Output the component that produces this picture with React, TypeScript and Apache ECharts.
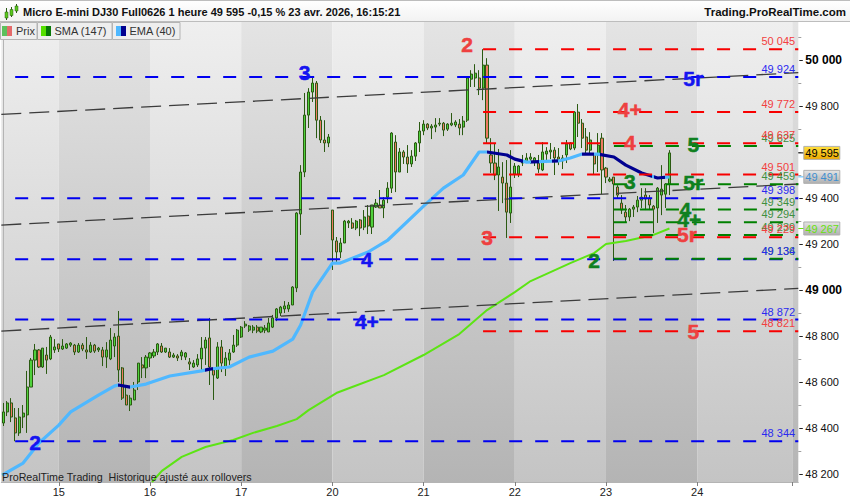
import React, { useEffect, useRef } from "react";
import * as echarts from "echarts";

const FONT = '"Liberation Sans", Arial, sans-serif';

const dayLabels = ["15", "16", "17", "20", "21", "22", "23", "24"];
const dayStarts = [14, 37, 60, 83, 106, 129, 152, 175];
const extraTick = 199;
const barSlots = 201;
const yMin = 48167;
const yMax = 50163;

const opens = [48423,48471,48510,48445,48380,48449,48458,48579,48696,48740,48666,48718,48701,48740,48766,48744,48748,48761,48761,48731,48761,48740,48731,48761,48740,48740,48709,48701,48757,48800,48662,48544,48501,48523,48601,48675,48662,48705,48714,48731,48757,48731,48731,48709,48714,48714,48709,48688,48666,48675,48701,48748,48792,48653,48618,48753,48666,48696,48731,48761,48796,48844,48826,48826,48839,48818,48826,48818,48839,48879,48900,48918,48918,48935,49009,49330,49512,49759,49859,49898,49737,49651,49638,49347,49213,49165,49204,49291,49291,49269,49304,49273,49321,49273,49360,49369,49356,49403,49442,49642,49512,49599,49577,49547,49581,49638,49690,49720,49703,49707,49720,49724,49698,49716,49716,49720,49707,49737,49915,49920,49920,49876,49976,49586,49551,49499,49490,49464,49334,49503,49503,49551,49560,49568,49555,49551,49521,49590,49599,49607,49577,49560,49586,49638,49616,49772,49724,49664,49607,49586,49586,49659,49529,49473,49490,49447,49377,49338,49317,49351,49360,49390,49412,49399,49364,49356,49412,49416,49460];
const closes = [48471,48510,48449,48380,48449,48466,48579,48696,48740,48666,48748,48696,48796,48753,48744,48757,48766,48770,48731,48761,48744,48731,48761,48735,48748,48709,48740,48783,48796,48653,48531,48501,48531,48566,48683,48662,48709,48727,48731,48766,48731,48748,48709,48718,48705,48731,48727,48679,48683,48701,48748,48783,48666,48631,48753,48683,48705,48727,48761,48826,48839,48852,48844,48839,48822,48839,48835,48857,48879,48918,48926,48931,48935,49013,49334,49512,49759,49859,49898,49737,49651,49638,49664,49217,49165,49204,49299,49299,49269,49299,49269,49317,49278,49369,49377,49356,49390,49442,49681,49512,49599,49577,49547,49581,49638,49690,49720,49703,49711,49716,49724,49694,49720,49724,49729,49703,49733,49920,49937,49941,49876,49976,49659,49551,49499,49534,49464,49338,49447,49538,49538,49555,49573,49577,49573,49525,49599,49603,49607,49573,49568,49573,49633,49612,49772,49724,49659,49607,49651,49547,49629,49521,49490,49481,49460,49412,49347,49317,49351,49360,49390,49403,49395,49369,49351,49442,49438,49460,49595];
const lows = [48410,48453,48427,48344,48367,48401,48380,48579,48631,48662,48662,48636,48696,48727,48731,48740,48744,48753,48718,48727,48735,48701,48727,48727,48731,48670,48662,48696,48709,48601,48523,48501,48475,48523,48566,48618,48618,48666,48705,48718,48727,48727,48705,48705,48692,48696,48696,48653,48662,48666,48644,48675,48588,48523,48614,48644,48627,48675,48727,48753,48792,48835,48818,48813,48813,48813,48813,48818,48835,48865,48887,48900,48905,48935,48991,49239,49490,49703,49816,49659,49638,49599,49620,49087,49117,49139,49204,49269,49265,49260,49234,49260,49243,49243,49356,49356,49312,49377,49421,49425,49512,49547,49508,49534,49560,49599,49672,49694,49655,49685,49711,49668,49690,49711,49707,49672,49672,49729,49881,49881,49846,49824,49638,49508,49477,49343,49377,49226,49291,49486,49490,49538,49551,49547,49538,49508,49516,49551,49568,49499,49542,49525,49551,49607,49607,49664,49616,49586,49586,49499,49512,49416,49464,49468,49126,49395,49330,49291,49299,49317,49338,49356,49347,49347,49247,49291,49325,49356,49412];
const highs = [48510,48518,48531,48488,48488,48501,48649,48705,48766,48744,48748,48753,48805,48787,48766,48787,48770,48774,48766,48770,48770,48796,48774,48766,48753,48753,48774,48835,48813,48909,48666,48588,48544,48601,48683,48709,48718,48731,48744,48770,48770,48748,48748,48727,48722,48740,48731,48705,48696,48722,48796,48796,48879,48653,48774,48783,48731,48744,48805,48831,48844,48865,48848,48848,48848,48839,48848,48879,48892,48922,48931,48952,48948,49017,49338,49542,49855,49876,49920,49907,49755,49737,49677,49347,49230,49226,49304,49304,49312,49304,49308,49347,49369,49369,49395,49434,49403,49468,49685,49672,49616,49607,49629,49607,49642,49729,49737,49724,49720,49746,49746,49729,49724,49768,49737,49742,49755,49920,49954,49980,49954,50045,50006,49659,49638,49612,49555,49564,49607,49551,49542,49586,49594,49594,49577,49586,49642,49620,49638,49620,49616,49586,49651,49642,49776,49807,49742,49703,49685,49586,49681,49681,49534,49490,49490,49455,49412,49369,49356,49369,49408,49442,49442,49412,49369,49447,49542,49464,49607];

const emaIdx = [-0.3,5,9,14,17,24,28,29,32,36,42,50,52,57,62,68,73,75,78,83,85,92,97,106,111,116,120,122,127,129,132,140,143,146,150,154,157,161,165,168];
const emaVal = [48197,48249,48336,48414,48471,48544,48583,48588,48579,48592,48627,48649,48657,48666,48709,48735,48787,48848,48991,49117,49117,49165,49217,49364,49442,49499,49599,49599,49586,49568,49555,49560,49573,49590,49590,49577,49542,49508,49486,49491];
const emaFallStarts = [29,51,122,133,138.5,146,150.5,164];
const emaFallEnds = [32,53,131,135,140,149,163.5,167];

const smaIdx = [37.5,40,45,51,58,63,69,74,77,84,88,96,106,115,122,129,133,138,143,149,152,157,164,168];
const smaVal = [48167,48215,48276,48319,48349,48380,48410,48440,48479,48553,48579,48631,48718,48809,48913,48991,49039,49078,49117,49160,49200,49213,49239,49267];

const blueLevels = [49924, 49398, 49134, 48872, 48344];
const redLevels = [50045, 49772, 49637, 49501, 49229, 48821];
const greenLevels = [49625, 49459, 49349, 49294, 49239, 49136];
const blueStart = 3;
const redStart = 121;
const greenStart = 154;

const trendStarts = [49762, 49282, 48822];
const trendEnds = [49943, 49460, 49007];

const blueMarks: [string, number, number][] = [["3",76,49946],["2",8,48340],["4",91.7,49134],["4+",91.7,48865],["5r",174,49920]];
const redMarks: [string, number, number][] = [["2",117,50067],["3",122,49230],["4",158,49638],["4+",158,49785],["5r",172.4,49243],["5",174,48822]];
const greenMarks: [string, number, number][] = [["3",158,49473],["5",174,49633],["5r",174,49468],["4",172,49351],["4+",173,49304],["2",149,49126]];

const tagPrices = [49595, 49491, 49267];
const tagText = ["#000000", "#3f8fd0", "#66e010"];
const tagTop = ["#ffe040", "#e4e4e4", "#e4e4e4"];
const tagBottom = ["#eca800", "#b0b0b0", "#b0b0b0"];
const tagTick = ["#000000", "#4fb8ff", "#66e010"];

const bandEdges = [-0.5,14,37,60,83,106,129,152,175,199,200.5];
const yTicks = [48200,48300,48400,48500,48600,48700,48800,48900,49000,49100,49200,49300,49400,49500,49600,49700,49800,49900,50000,50100];
const yLabels = [48200,48400,48600,48800,49000,49200,49400,49800,50000];

const titleText = "Micro E-mini DJ30 Full0626 1 heure 49 595 -0,15 % 23 avr. 2026, 16:15:21";
const siteText = "Trading.ProRealTime.com";
const footText = "ProRealTime Trading  Historique ajusté aux rollovers";

const BLUE = "#0000f0";
const RED = "#f80000";
const GREEN = "#008000";
const SW = "#2b5a12";

const fmt = (v: number) => {
  const s = String(v);
  return s.slice(0, s.length - 3) + " " + s.slice(-3);
};

const categories = Array.from({ length: barSlots }, (_, i) => {
  const k = dayStarts.indexOf(i);
  return k >= 0 ? dayLabels[k] : "";
});
const isTick = (i: number) => dayStarts.includes(i) || i === extraTick;

function levelSeries(levels: number[], start: number, color: string) {
  return levels.map((lv) => ({
    type: "line",
    xAxisIndex: 1,
    yAxisIndex: 0,
    z: 5,
    silent: true,
    symbol: "none",
    lineStyle: { color, width: 2, type: [13, 13], cap: "butt" },
    data: [[start, lv], [200.5, lv]],
  }));
}

function markSeries(marks: [string, number, number][], color: string) {
  return {
    type: "custom",
    xAxisIndex: 1,
    yAxisIndex: 0,
    z: 7,
    silent: true,
    data: marks.map((m) => [m[1], m[2]]),
    renderItem: (p: any, api: any) => {
      const c = api.coord([api.value(0), api.value(1)]);
      return {
        type: "text",
        x: c[0],
        y: c[1],
        style: {
          text: marks[p.dataIndex][0],
          fill: color,
          stroke: color,
          lineWidth: 0.5,
          font: `bold 21px ${FONT}`,
          align: "center",
          verticalAlign: "middle",
        },
      };
    },
  };
}

function levelTextSeries(levels: number[], color: string) {
  return {
    type: "custom",
    xAxisIndex: 1,
    yAxisIndex: 0,
    z: 6,
    silent: true,
    data: levels.map((l) => [199.7, l]),
    renderItem: (p: any, api: any) => {
      const c = api.coord([api.value(0), api.value(1)]);
      return {
        type: "text",
        x: c[0],
        y: c[1] - 8,
        style: {
          text: fmt(levels[p.dataIndex]),
          fill: color,
          font: `11px ${FONT}`,
          align: "right",
          verticalAlign: "middle",
        },
      };
    },
  };
}

export default function App() {
  const ref = useRef<HTMLDivElement>(null);
  useEffect(() => {
    document.body.style.margin = "0";
    document.body.style.background = "#ffffff";
    const chart = echarts.init(ref.current!, null, { renderer: "svg" });

    const graphicEls: any[] = [
      {
        type: "rect",
        shape: { x: 0, y: 0, width: 850, height: 22 },
        style: {
          fill: new echarts.graphic.LinearGradient(0, 0, 0, 1, [
            { offset: 0, color: "#ffffff" },
            { offset: 1, color: "#f2f2f2" },
          ]),
        },
        z: 0,
      },
      { type: "line", shape: { x1: 0, y1: 0.5, x2: 850, y2: 0.5 }, style: { stroke: "#bdbdbd", lineWidth: 1 }, z: 1 },
      { type: "line", shape: { x1: 0, y1: 21.5, x2: 850, y2: 21.5 }, style: { stroke: "#bdbdbd", lineWidth: 1 }, z: 1 },
      { type: "text", x: 23, y: 12, style: { text: titleText, fill: "#111", font: `bold 11px ${FONT}`, verticalAlign: "middle" }, z: 20 },
      { type: "text", x: 846, y: 12, style: { text: siteText, fill: "#111", font: `bold 11.5px ${FONT}`, align: "right", verticalAlign: "middle" }, z: 20 },
      { type: "line", shape: { x1: 6.5, y1: 8, x2: 6.5, y2: 20 }, style: { stroke: SW, lineWidth: 1 }, z: 20 },
      { type: "rect", shape: { x: 5, y: 12, width: 3, height: 6 }, style: { fill: "#5ac81e", stroke: SW, lineWidth: 0.5 }, z: 21 },
      { type: "line", shape: { x1: 11.5, y1: 7, x2: 11.5, y2: 17 }, style: { stroke: SW, lineWidth: 1 }, z: 20 },
      { type: "rect", shape: { x: 10, y: 9.5, width: 3, height: 6 }, style: { fill: "#5ac81e", stroke: SW, lineWidth: 0.5 }, z: 21 },
      { type: "line", shape: { x1: 16.5, y1: 4, x2: 16.5, y2: 13 }, style: { stroke: SW, lineWidth: 1 }, z: 20 },
      { type: "rect", shape: { x: 15, y: 6, width: 3, height: 5 }, style: { fill: "#5ac81e", stroke: SW, lineWidth: 0.5 }, z: 21 },
      { type: "rect", shape: { x: 0.5, y: 22.5, width: 36.5, height: 17 }, style: { fill: "#eeeeee", stroke: "#b4b4b4", lineWidth: 1 }, z: 20 },
      { type: "rect", shape: { x: 37.5, y: 22.5, width: 74.5, height: 17 }, style: { fill: "#eeeeee", stroke: "#b4b4b4", lineWidth: 1 }, z: 20 },
      { type: "rect", shape: { x: 112.5, y: 22.5, width: 67.5, height: 17 }, style: { fill: "#eeeeee", stroke: "#b4b4b4", lineWidth: 1 }, z: 20 },
      { type: "rect", shape: { x: 2, y: 26, width: 5, height: 10 }, style: { fill: "#5cc05c" }, z: 21 },
      { type: "rect", shape: { x: 7, y: 26, width: 5, height: 10 }, style: { fill: "#e46a6a" }, z: 21 },
      { type: "text", x: 16, y: 30.5, style: { text: "Prix", fill: "#333", font: `11px ${FONT}`, verticalAlign: "middle" }, z: 21 },
      { type: "rect", shape: { x: 41, y: 26, width: 5, height: 10 }, style: { fill: "#55e000" }, z: 21 },
      { type: "rect", shape: { x: 46, y: 26, width: 5, height: 10 }, style: { fill: "#087808" }, z: 21 },
      { type: "text", x: 54.5, y: 30.5, style: { text: "SMA (147)", fill: "#333", font: `11px ${FONT}`, verticalAlign: "middle" }, z: 21 },
      { type: "rect", shape: { x: 116, y: 26, width: 5, height: 10 }, style: { fill: "#4fb8ff" }, z: 21 },
      { type: "rect", shape: { x: 121, y: 26, width: 5, height: 10 }, style: { fill: "#000090" }, z: 21 },
      { type: "text", x: 129.5, y: 30.5, style: { text: "EMA (40)", fill: "#333", font: `11px ${FONT}`, verticalAlign: "middle" }, z: 21 },
      { type: "text", x: 2, y: 476.5, style: { text: footText, fill: "#222", font: `10.7px ${FONT}`, verticalAlign: "middle" }, z: 21 },
    ];

    const series: any[] = [
      {
        type: "custom",
        xAxisIndex: 1,
        yAxisIndex: 0,
        z: 0,
        silent: true,
        data: bandEdges.slice(0, -1).map((a, i) => [a, bandEdges[i + 1], yMax]),
        renderItem: (p: any, api: any) => {
          const a = api.coord([api.value(0), yMax]);
          const b = api.coord([api.value(1), yMin]);
          const light = p.dataIndex % 2 === 0;
          return {
            type: "rect",
            shape: { x: a[0], y: a[1], width: b[0] - a[0], height: b[1] - a[1] },
            style: {
              fill: new echarts.graphic.LinearGradient(0, 0, 0, 1, [
                { offset: 0, color: light ? "#efefef" : "#e4e4e4" },
                { offset: 1, color: light ? "#c4c4c4" : "#b4b4b4" },
              ]),
            },
          };
        },
      },
      {
        type: "candlestick",
        xAxisIndex: 0,
        yAxisIndex: 0,
        z: 2,
        barWidth: 2.6,
        silent: true,
        itemStyle: {
          color: "#4fd23c",
          color0: "#ee7a62",
          borderColor: SW,
          borderColor0: SW,
          borderWidth: 1,
        },
        data: opens.map((o, i) => [o, closes[i], lows[i], highs[i]]),
      },
      {
        type: "line",
        id: "sma",
        xAxisIndex: 1,
        yAxisIndex: 0,
        z: 3,
        silent: true,
        symbol: "none",
        lineStyle: { color: "#5ce414", width: 2 },
        data: smaIdx.map((x, i) => [x, smaVal[i]]),
      },
      {
        type: "line",
        id: "ema",
        xAxisIndex: 1,
        yAxisIndex: 0,
        z: 4,
        silent: true,
        symbol: "none",
        lineStyle: { width: 3.2 },
        data: emaIdx.map((x, i) => [x, emaVal[i]]),
      },
      ...trendStarts.map((s, i) => ({
        type: "line",
        xAxisIndex: 1,
        yAxisIndex: 0,
        z: 4,
        silent: true,
        symbol: "none",
        lineStyle: { color: "#3c3c3c", width: 1.3, type: [20, 8] },
        data: [[-0.5, s], [200.5, trendEnds[i]]],
      })),
      ...levelSeries(blueLevels, blueStart, BLUE),
      ...levelSeries(redLevels, redStart, RED),
      ...levelSeries(greenLevels, greenStart, GREEN),
      levelTextSeries(greenLevels, "#3f8f3f"),
      levelTextSeries(blueLevels, "#2a2af0"),
      levelTextSeries(redLevels, "#f24040"),
      markSeries(greenMarks, "#0f8020"),
      markSeries(blueMarks, "#1515f0"),
      markSeries(redMarks, "#ee4040"),
      {
        type: "custom",
        xAxisIndex: 1,
        yAxisIndex: 0,
        z: 1,
        silent: true,
        data: yTicks.map((v) => [200.5, v]),
        renderItem: (p: any, api: any) => {
          const c = api.coord([api.value(0), api.value(1)]);
          const major = yLabels.includes(yTicks[p.dataIndex]);
          const y = Math.round(c[1]) + 0.5;
          return {
            type: "line",
            shape: { x1: c[0] + (major ? 1 : 0), y1: y, x2: c[0] + (major ? 4.5 : 3), y2: y },
            style: { stroke: major ? "#222" : "#a0a0a0", lineWidth: 1 },
          };
        },
      },
      {
        type: "custom",
        xAxisIndex: 1,
        yAxisIndex: 0,
        z: 8,
        silent: true,
        data: tagPrices.map((v) => [200.5, v]),
        renderItem: (p: any, api: any) => {
          const c = api.coord([api.value(0), api.value(1)]);
          const i = p.dataIndex;
          return {
            type: "group",
            children: [
              { type: "line", shape: { x1: c[0], y1: c[1], x2: c[0] + 6, y2: c[1] }, style: { stroke: tagTick[i], lineWidth: 1 } },
              {
                type: "rect",
                shape: { x: c[0] + 5.5, y: c[1] - 6.5, width: 36, height: 13 },
                style: {
                  fill: new echarts.graphic.LinearGradient(0, 0, 0, 1, [
                    { offset: 0, color: tagTop[i] },
                    { offset: 1, color: tagBottom[i] },
                  ]),
                  stroke: "#b0b0b0",
                  lineWidth: 1,
                },
              },
              {
                type: "text",
                x: c[0] + 7,
                y: c[1] + 0.5,
                style: { text: fmt(tagPrices[i]), fill: tagText[i], font: `11px ${FONT}`, verticalAlign: "middle" },
              },
            ],
          };
        },
      },
    ];

    chart.setOption({
      animation: false,
      backgroundColor: "#ffffff",
      graphic: { elements: graphicEls },
      visualMap: {
        type: "piecewise",
        show: false,
        seriesIndex: 3,
        dimension: 0,
        pieces: emaFallStarts.map((s, i) => ({ gte: s, lte: emaFallEnds[i], color: "#000090" })),
        outOfRange: { color: "#4fb8ff" },
      },
      grid: { left: 1.3, right: 51.7, top: 22, bottom: 18, show: false },
      xAxis: [
        {
          type: "category",
          data: categories,
          boundaryGap: true,
          axisLine: { show: true, lineStyle: { color: "#b4b4b4" } },
          axisTick: { show: true, alignWithLabel: true, length: 4, interval: (i: number) => isTick(i), lineStyle: { color: "#808080" } },
          axisLabel: {
            interval: (i: number) => isTick(i),
            color: "#222",
            fontFamily: FONT,
            fontSize: 11,
            margin: 4,
          },
          splitLine: { show: false },
        },
        { type: "value", show: false, min: -0.5, max: 200.5, splitLine: { show: false } },
      ],
      yAxis: [
        {
          type: "value",
          position: "right",
          min: yMin,
          max: yMax,
          scale: true,
          axisLine: { show: true, lineStyle: { color: "#b4b4b4" } },
          axisTick: { show: false },
          splitLine: { show: false },
          axisLabel: {
            customValues: yLabels,
            margin: 7,
            color: "#111",
            fontFamily: FONT,
            fontSize: 11,
            formatter: (v: number) => (v % 1000 === 0 ? `{b|${fmt(v)}}` : fmt(v)),
            rich: { b: { fontFamily: FONT, fontSize: 12, fontWeight: "bold", color: "#000" } },
          },
        },
      ],
      series,
    });
    return () => chart.dispose();
  }, []);
  return <div ref={ref} style={{ position: "absolute", left: 0, top: 0, width: 850, height: 500 }} />;
}
